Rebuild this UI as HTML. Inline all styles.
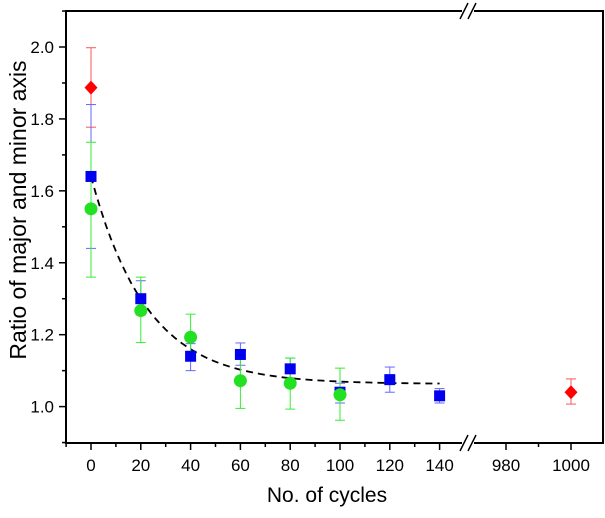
<!DOCTYPE html>
<html><head><meta charset="utf-8"><style>
body{margin:0;background:#fff}
svg{font-family:"Liberation Sans",Arial,sans-serif}
</style></head><body>
<svg id="c" width="605" height="513" viewBox="0 0 605 513">
<rect x="66" y="11" width="537" height="432" fill="none" stroke="#000" stroke-width="2"/>
<g id="marks"></g>
<text x="327" y="502" font-size="21" text-anchor="middle">No. of cycles</text>
<text transform="translate(26,210) rotate(-90)" font-size="23" text-anchor="middle">Ratio of major and minor axis</text>
</svg>
<script>
const yTicks=[1.0,1.2,1.4,1.6,1.8,2.0];
const xTicksLeft=[0,20,40,60,80,100,120,140];
const xTicksRight=[980,1000];
const blueX=[0,20,40,60,80,100,120,140];
const blueY=[1.64,1.30,1.14,1.145,1.105,1.04,1.075,1.03];
const blueLo=[1.44,1.255,1.10,1.115,1.075,1.01,1.04,1.01];
const blueHi=[1.84,1.35,1.175,1.177,1.135,1.065,1.11,1.05];
const greenX=[0,20,40,60,80,100];
const greenY=[1.55,1.267,1.193,1.072,1.065,1.033];
const greenLo=[1.36,1.178,1.13,0.995,0.993,0.962];
const greenHi=[1.735,1.36,1.257,1.15,1.135,1.107];
const redX=[0,1000];
const redY=[1.887,1.04];
const redLo=[1.777,1.007];
const redHi=[1.998,1.077];
const fitParams=[1.063,0.577,22.4];
const NS="http://www.w3.org/2000/svg";
const g=document.getElementById('marks');
function sy(v){return 406.6-(v-1)*359.6;}
function sx(v){return v<500?91+v*2.49:506+(v-980)*3.25;}
function el(t,a){const e=document.createElementNS(NS,t);for(const k in a)e.setAttribute(k,a[k]);g.appendChild(e);return e;}
for(let v=0.9;v<=2.11;v+=0.1){const major=yTicks.some(t=>Math.abs(t-v)<1e-6);
 const t=el('line',{x1:66,x2:major?59:62,y1:sy(v),y2:sy(v),stroke:'#000','stroke-width':1.5});
 }
yTicks.forEach(v=>{const t=el('text',{x:54,y:sy(v)+6,'font-size':17,'text-anchor':'end'});t.textContent=v.toFixed(1);
 });
for(let v=-10;v<=150;v+=10){if(sx(v)<66||sx(v)>462)continue;const major=xTicksLeft.includes(v);
 const t=el('line',{x1:sx(v),x2:sx(v),y1:443,y2:major?450:447,stroke:'#000','stroke-width':1.5});
 }
[970,980,990,1000].forEach(v=>{if(sx(v)<475)return;const major=xTicksRight.includes(v);
 const t=el('line',{x1:sx(v),x2:sx(v),y1:443,y2:major?450:447,stroke:'#000','stroke-width':1.5});
 });
xTicksLeft.concat(xTicksRight).forEach(v=>{const t=el('text',{x:sx(v),y:471,'font-size':17,'text-anchor':'middle'});t.textContent=v;
 });
[443,11].forEach(y=>{const w=el('rect',{x:462,y:y-8,width:12,height:16,fill:'#fff'});
 
 [-4,4].forEach(d=>{const l=el('line',{x1:468+d-4,y1:y+8,x2:468+d+4,y2:y-8,stroke:'#000','stroke-width':1.5});
 });});
let d='';for(let x=0;x<=140;x+=2){const v=fitParams[0]+fitParams[1]*Math.exp(-x/fitParams[2]);d+=(x?'L':'M')+sx(x).toFixed(1)+','+sy(v).toFixed(1);}
const fit=el('path',{d:d,fill:'none',stroke:'#000','stroke-width':1.8,'stroke-dasharray':'7,5'});

function errs(xs,lo,hi,col,name){xs.forEach((x,i)=>{const X=sx(x);
 const l=el('line',{x1:X,x2:X,y1:sy(lo[i]),y2:sy(hi[i]),stroke:col,'stroke-width':1});
 
 [lo[i],hi[i]].forEach(v=>{const c=el('line',{x1:X-5,x2:X+5,y1:sy(v),y2:sy(v),stroke:col,'stroke-width':1});
 });});}
errs(redX,redLo,redHi,'#f55','red');
errs(blueX,blueLo,blueHi,'#66f','blue');
errs(greenX,greenLo,greenHi,'#3e3','green');
blueX.forEach((x,i)=>{const r=el('rect',{x:sx(x)-5.5,y:sy(blueY[i])-5.5,width:11,height:11,fill:'#0000ee'});
 });
greenX.forEach((x,i)=>{const c=el('circle',{cx:sx(x),cy:sy(greenY[i]),r:6.5,fill:'#22e022'});
 });
redX.forEach((x,i)=>{const X=sx(x),Y=sy(redY[i]);const p=el('polygon',{points:`${X},${Y-7} ${X+6.5},${Y} ${X},${Y+7} ${X-6.5},${Y}`,fill:'#f00'});
 });
</script>
</body></html>
